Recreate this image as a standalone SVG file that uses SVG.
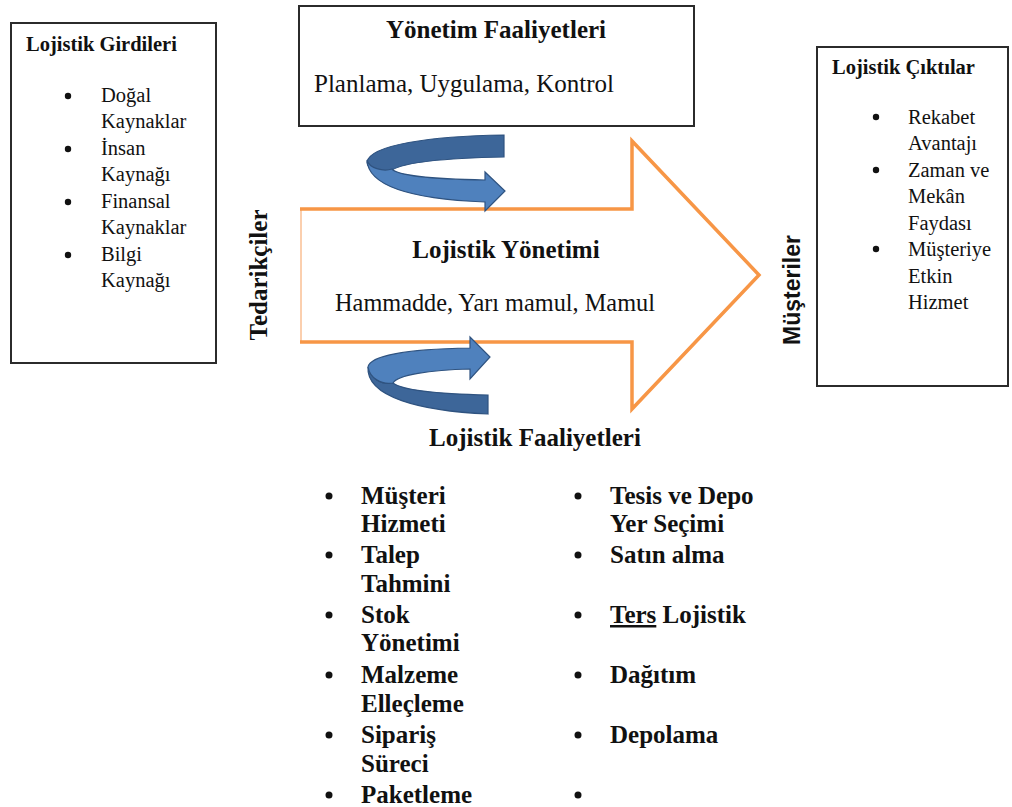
<svg xmlns="http://www.w3.org/2000/svg" width="1012" height="807" viewBox="0 0 1012 807">
  <defs>
    <style>
      .box { fill: #ffffff; stroke: #2b2b2b; stroke-width: 2; }
      .serif { font-family: 'Times New Roman', 'Liberation Serif', Tinos, 'DejaVu Serif', serif; fill: #111111; }
      .title { font-weight: bold; }
      .item { font-size: 20.5px; }
      .big { font-size: 25px; }
      .bullet { fill: #111111; }
      .flow { fill: none; stroke: #F79646; stroke-width: 3.5; stroke-linejoin: miter; }
      .flow-back { fill: none; stroke: #FBCFAE; stroke-width: 2; }
      .turn-back { fill: #3D6699; stroke: #2F5380; stroke-width: 1.2; }
      .turn-front { fill: #4F81BD; stroke: #2F5380; stroke-width: 1.2; }
    </style>
  </defs>

  <rect width="1012" height="807" fill="#ffffff"/>

  <!-- Logistics inputs -->
  <g id="lojistik-girdileri">
    <rect class="box" x="11" y="23" width="205" height="340"/>
    <text class="serif title item" x="26" y="51">Lojistik Girdileri</text>
    <circle class="bullet" cx="68" cy="96" r="3.2"/>
    <circle class="bullet" cx="68" cy="149" r="3.2"/>
    <circle class="bullet" cx="68" cy="202" r="3.2"/>
    <circle class="bullet" cx="68" cy="255" r="3.2"/>
    <text class="serif item" x="101" y="102">Doğal</text>
    <text class="serif item" x="101" y="128">Kaynaklar</text>
    <text class="serif item" x="101" y="155">İnsan</text>
    <text class="serif item" x="101" y="181">Kaynağı</text>
    <text class="serif item" x="101" y="208">Finansal</text>
    <text class="serif item" x="101" y="234">Kaynaklar</text>
    <text class="serif item" x="101" y="261">Bilgi</text>
    <text class="serif item" x="101" y="287">Kaynağı</text>
  </g>

  <!-- Management activities -->
  <g id="yonetim-faaliyetleri">
    <rect class="box" x="299" y="6" width="395" height="120"/>
    <text class="serif title big" x="496" y="38" text-anchor="middle">Yönetim Faaliyetleri</text>
    <text class="serif big" x="314" y="92">Planlama, Uygulama, Kontrol</text>
  </g>

  <!-- Logistics outputs -->
  <g id="lojistik-ciktilar">
    <rect class="box" x="817" y="47" width="191" height="339"/>
    <text class="serif title item" x="832" y="74">Lojistik Çıktılar</text>
    <circle class="bullet" cx="876" cy="117" r="3.2"/>
    <circle class="bullet" cx="876" cy="170" r="3.2"/>
    <circle class="bullet" cx="876" cy="249" r="3.2"/>
    <text class="serif item" x="908" y="124">Rekabet</text>
    <text class="serif item" x="908" y="150">Avantajı</text>
    <text class="serif item" x="908" y="177">Zaman ve</text>
    <text class="serif item" x="908" y="203">Mekân</text>
    <text class="serif item" x="908" y="230">Faydası</text>
    <text class="serif item" x="908" y="256">Müşteriye</text>
    <text class="serif item" x="908" y="283">Etkin</text>
    <text class="serif item" x="908" y="309">Hizmet</text>
  </g>

  <!-- Suppliers -->
  <g id="tedarikciler">
    <text class="serif title big" transform="translate(267,275) rotate(-90)" text-anchor="middle">Tedarikçiler</text>
  </g>

  <!-- Customers -->
  <g id="musteriler">
    <text transform="translate(800,290) rotate(-90)" text-anchor="middle" font-family="Liberation Sans, Arial, sans-serif" font-weight="bold" font-size="23" fill="#111111">Müşteriler</text>
  </g>

  <!-- Logistics management: the main flow arrow -->
  <g id="lojistik-yonetimi">
    <line class="flow-back" x1="301" y1="209" x2="301" y2="342"/>
    <polyline class="flow" points="300,209 632,209 632,141 759,275 632,409 632,342 300,342"/>
    <text class="serif title big" x="506" y="258" text-anchor="middle">Lojistik Yönetimi</text>
    <text class="serif" font-size="24.3" x="495" y="311" text-anchor="middle">Hammadde, Yarı mamul, Mamul</text>
  </g>

  <!-- Feedback loops between the management layer and the flow -->
  <g id="connectors">
    <g id="loop-top">
      <path class="turn-back" d="M 504 135 C 430 136 370 145 367 162 C 367 169 380 173 392 170 C 405 162 450 158 504 157 Z"/>
      <path class="turn-front" d="M 367 160 C 368 186 410 199 485 202 L 485 211 L 505 191 L 485 172 L 485 180 C 430 179 397 175 392 169 C 383 172 369 168 367 160 Z"/>
    </g>
    <g id="loop-bottom">
      <path class="turn-back" d="M 368 367 C 366 397 420 411 488 414 L 488 395 C 440 394 402 390 393 383 C 381 385 370 378 368 367 Z"/>
      <path class="turn-front" d="M 368 367 C 370 355 410 349 470 348 L 470 337 L 490 357 L 470 379 L 470 369 C 430 370 397 375 393 383 C 381 385 370 378 368 367 Z"/>
    </g>
  </g>

  <!-- Logistics activities -->
  <g id="lojistik-faaliyetleri">
    <text class="serif title big" x="535" y="446" text-anchor="middle">Lojistik Faaliyetleri</text>
    <g class="serif title big">
      <text x="361" y="504">Müşteri</text>
      <text x="361" y="532">Hizmeti</text>
      <text x="361" y="563">Talep</text>
      <text x="361" y="592">Tahmini</text>
      <text x="361" y="623">Stok</text>
      <text x="361" y="651">Yönetimi</text>
      <text x="361" y="683">Malzeme</text>
      <text x="361" y="712">Elleçleme</text>
      <text x="361" y="743">Sipariş</text>
      <text x="361" y="772">Süreci</text>
      <text x="361" y="803">Paketleme</text>
      <text x="610" y="504">Tesis ve Depo</text>
      <text x="610" y="532">Yer Seçimi</text>
      <text x="610" y="563">Satın alma</text>
      <text x="610" y="623"><tspan text-decoration="underline">Ters</tspan> Lojistik</text>
      <text x="610" y="683">Dağıtım</text>
      <text x="610" y="743">Depolama</text>
    </g>
    <g class="bullet">
      <circle cx="329" cy="496" r="3.5"/>
      <circle cx="329" cy="555" r="3.5"/>
      <circle cx="329" cy="615" r="3.5"/>
      <circle cx="329" cy="675" r="3.5"/>
      <circle cx="329" cy="735" r="3.5"/>
      <circle cx="329" cy="795" r="3.5"/>
      <circle cx="578" cy="496" r="3.5"/>
      <circle cx="578" cy="555" r="3.5"/>
      <circle cx="578" cy="615" r="3.5"/>
      <circle cx="578" cy="675" r="3.5"/>
      <circle cx="578" cy="735" r="3.5"/>
      <circle cx="578" cy="795" r="3.5"/>
    </g>
  </g>
</svg>
